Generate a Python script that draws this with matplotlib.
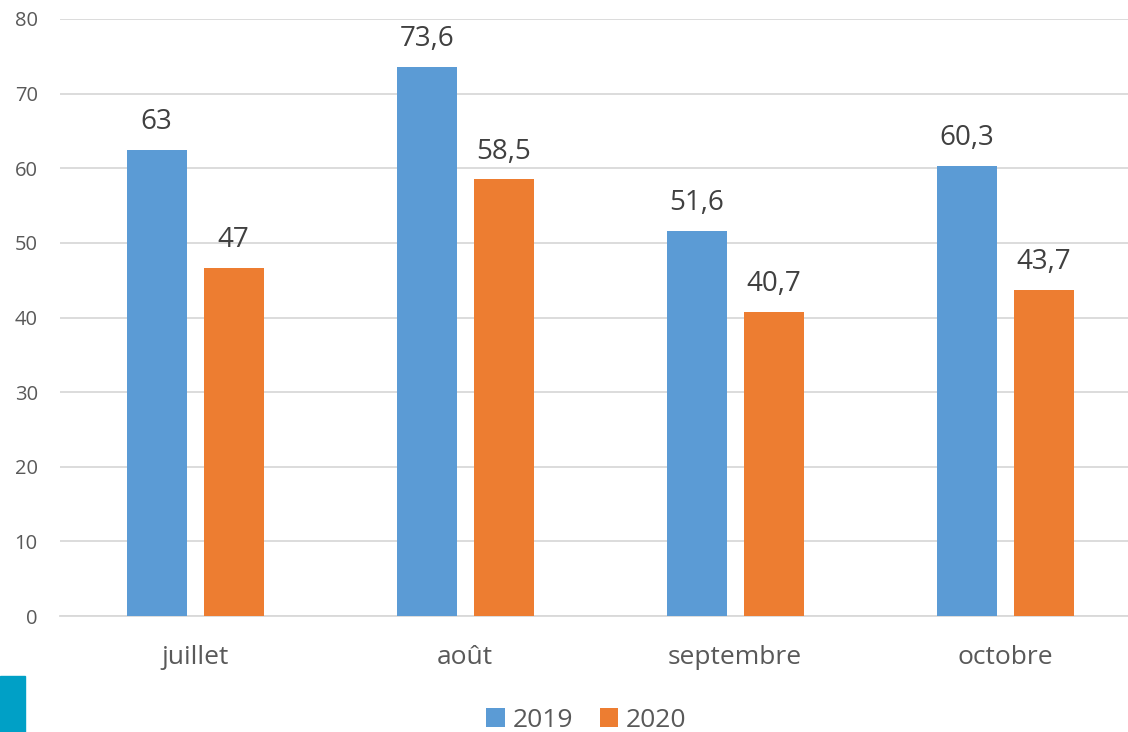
import matplotlib.pyplot as plt
from matplotlib.patches import Rectangle
import numpy as np

plt.rcParams['font.family'] = ['Open Sans', 'DejaVu Sans']

months = ['juillet', 'août', 'septembre', 'octobre']
series = ['2019', '2020']
values_2019 = [62.4, 73.6, 51.6, 60.3]
values_2020 = [46.6, 58.5, 40.7, 43.7]
labels_2019 = ['63', '73,6', '51,6', '60,3']
labels_2020 = ['47', '58,5', '40,7', '43,7']

blue = '#5B9BD5'
orange = '#ED7D31'
text_col = '#595959'

fig = plt.figure(figsize=(11.28, 7.32), dpi=100)
# plot area runs a bit past the right edge, like the original
ax = fig.add_axes([60 / 1128, 116 / 732, 1080 / 1128, 597 / 732])

x = np.arange(len(months))
w = 0.222
b1 = ax.bar(x - 0.142, values_2019, w, color=blue, label=series[0], zorder=3)
b2 = ax.bar(x + 0.143, values_2020, w, color=orange, label=series[1], zorder=3)

for rect, lab in zip(b1, labels_2019):
    ax.annotate(lab, (rect.get_x() + rect.get_width() / 2, rect.get_height()),
                xytext=(0, 10), textcoords='offset points', ha='center', va='bottom',
                fontsize=20, color='#404040')
for rect, lab in zip(b2, labels_2020):
    ax.annotate(lab, (rect.get_x() + rect.get_width() / 2, rect.get_height()),
                xytext=(0, 10), textcoords='offset points', ha='center', va='bottom',
                fontsize=20, color='#404040')

ax.set_xlim(-0.5, len(months) - 0.5)
ax.set_ylim(0, 80)
ax.set_yticks(range(0, 81, 10))
ax.set_xticks(x)
ax.set_xticklabels(months, fontsize=19, color=text_col)
ax.tick_params(axis='y', labelsize=14.5, labelcolor=text_col, length=0, pad=16)
ax.tick_params(axis='x', length=0, pad=21)
ax.grid(axis='y', color='#D9D9D9', linewidth=1.3, zorder=0)
for s in ['top', 'right', 'left']:
    ax.spines[s].set_visible(False)
ax.spines['bottom'].set_color('#D9D9D9')
ax.spines['bottom'].set_linewidth(1.3)

fig.legend(handles=[b1, b2], labels=series, loc='center', bbox_to_anchor=(0.52, 0.016),
           ncol=2, frameon=False, fontsize=19, handlelength=0.7, handleheight=0.7,
           handletextpad=0.3, columnspacing=1.0, labelcolor=text_col, borderpad=0)

# teal block in the bottom-left corner
fig.patches.append(Rectangle((0, 0), 25 / 1128, 56 / 732, transform=fig.transFigure,
                             color='#00A0C6', zorder=5))

fig.savefig('out.png', dpi=100)
